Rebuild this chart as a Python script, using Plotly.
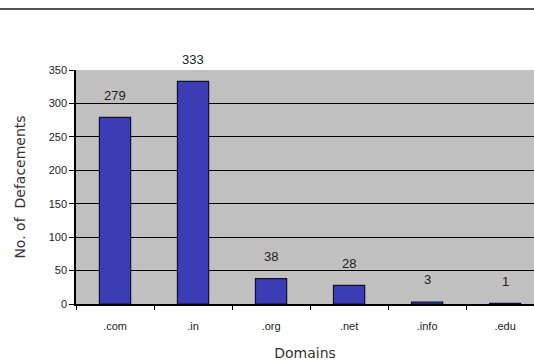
import plotly.graph_objects as go

domains = [".com", ".in", ".org", ".net", ".info", ".edu"]
defacements = [279, 333, 38, 28, 3, 1]
y_ticks = [0, 50, 100, 150, 200, 250, 300, 350]

fig = go.Figure()
fig.add_trace(go.Bar(
    x=domains, y=defacements, width=0.4,
    marker=dict(color="#3c3cb4", line=dict(color="#101030", width=1.2)),
))

for d, v in zip(domains, defacements):
    fig.add_annotation(x=d, y=v, text=str(v), showarrow=False, yshift=22,
                       font=dict(family="Liberation Sans, Arial", size=13, color="#222"))

fig.add_shape(type="line", xref="paper", yref="paper", x0=-0.2, x1=1.1, y0=1.261, y1=1.261,
              line=dict(color="#555", width=2))

fig.update_layout(
    width=534, height=362,
    margin=dict(l=76, r=0, t=70, b=58),
    paper_bgcolor="white", plot_bgcolor="#c0c0c0",
    showlegend=False,
    font=dict(family="Liberation Sans, Arial", size=11, color="#222"),
    bargap=0.6,
)
fig.update_xaxes(
    range=[-0.5, 5.37], tickson="boundaries", ticks="outside", ticklen=4, tickcolor="black",
    showline=True, linecolor="black", linewidth=1.5, showgrid=False,
    ticklabelstandoff=11,
    tickfont=dict(size=11), title=dict(text="Domains", font=dict(family="DejaVu Sans", size=14, color="#333"), standoff=17),
)
fig.update_yaxes(
    range=[0, 350], tickvals=y_ticks, ticks="outside", ticklen=5, tickcolor="black",
    showline=True, linecolor="black", linewidth=1.5, showgrid=True, gridcolor="black", gridwidth=1.2,
    zeroline=False, tickfont=dict(size=11),
    title=dict(text="No. of  Defacements", font=dict(family="DejaVu Sans", size=14, color="#333"), standoff=20),
)
fig.write_html("out.html")
